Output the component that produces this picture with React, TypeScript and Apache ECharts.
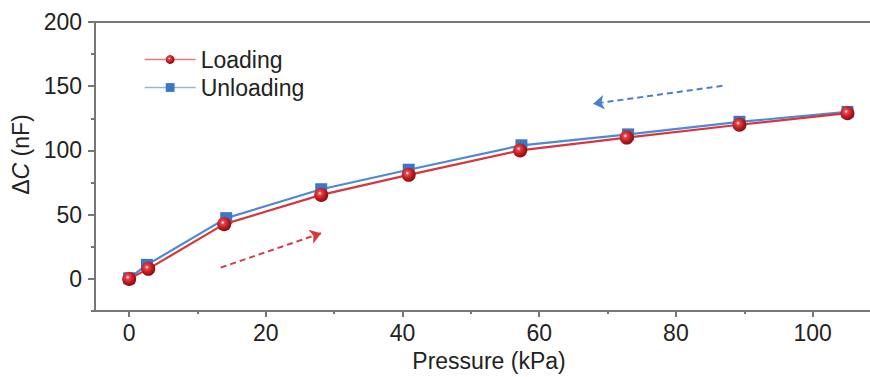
import React, { useEffect, useRef } from "react";
import * as echarts from "echarts";

const loadingData: [number, number][] = [
  [0, 0], [2.8, 7.8], [13.9, 42.6], [28.1, 65.4], [40.9, 81],
  [57.2, 100], [72.8, 110], [89.3, 120], [105.1, 129],
];
const unloadingData: [number, number][] = [
  [0, 0.5], [2.6, 10.9], [14.2, 47.3], [28.1, 69.8], [40.9, 85],
  [57.4, 104], [73, 112.5], [89.3, 122.3], [105.1, 130],
];
const xMajorTicks = [0, 20, 40, 60, 80, 100];
const xMinorTicks = [10, 30, 50, 70, 90];
const yMajorTicks = [0, 50, 100, 150, 200];
const yMinorTicks = [-25, 25, 75, 125, 175];
const loadingArrow: [number, number][] = [[13.4, 8.8], [28.1, 35.6]];
const unloadingArrow: [number, number][] = [[86.8, 150.3], [67.9, 136.3]];

const FONT = "'Liberation Sans', Arial, sans-serif";
const AXIS_COLOR = "#777";
const TEXT_COLOR = "#222";

export default function App() {
  const ref = useRef<HTMLDivElement>(null);
  useEffect(() => {
    if (!ref.current) return;
    const chart = echarts.init(ref.current, undefined, { renderer: "svg" });
    const axisLine = { show: true, onZero: false, lineStyle: { color: AXIS_COLOR, width: 2 } };
    const sphere = {
      type: "radial",
      x: 0.4,
      y: 0.38,
      r: 0.62,
      colorStops: [
        { offset: 0, color: "#ffffff" },
        { offset: 0.22, color: "#e2474b" },
        { offset: 0.6, color: "#c41c22" },
        { offset: 1, color: "#8a0c10" },
      ],
    };
    const X_MIN = -5;
    const X_MAX = 108.4;
    chart.setOption({
      animation: false,
      textStyle: { fontFamily: FONT },
      grid: { left: 95, right: 0, top: 22, bottom: 66 },
      legend: {
        orient: "vertical",
        left: 139,
        top: 43,
        itemWidth: 51,
        itemHeight: 11,
        itemGap: 5,
        textStyle: { fontSize: 23, color: TEXT_COLOR, fontFamily: FONT },
        data: [
          { name: "Loading", lineStyle: { color: "#e07b7e", width: 1.3 } },
          { name: "Unloading", lineStyle: { color: "#8db6e6", width: 1.3 } },
        ],
      },
      xAxis: [
        {
          type: "value",
          min: X_MIN,
          max: X_MAX,
          position: "bottom",
          axisLine,
          axisTick: { show: true, length: 6, customValues: xMajorTicks, lineStyle: { color: AXIS_COLOR, width: 2 } },
          axisLabel: { customValues: xMajorTicks, fontSize: 23, color: TEXT_COLOR, margin: 10, fontFamily: FONT },
          splitLine: { show: false },
          name: "Pressure (kPa)",
          nameLocation: "middle",
          nameGap: 38,
          nameTextStyle: { fontSize: 23, color: TEXT_COLOR, fontFamily: FONT, padding: [0, 0, 0, 13] },
        },
        {
          type: "value",
          min: X_MIN,
          max: X_MAX,
          position: "bottom",
          axisLine: { show: false, onZero: false },
          axisTick: { show: true, length: 3, customValues: xMinorTicks, lineStyle: { color: AXIS_COLOR, width: 2 } },
          axisLabel: { show: false },
          splitLine: { show: false },
        },
        {
          type: "value",
          min: X_MIN,
          max: X_MAX,
          position: "top",
          axisLine,
          axisTick: { show: false },
          axisLabel: { show: false },
          splitLine: { show: false },
        },
      ],
      yAxis: [
        {
          type: "value",
          min: -25,
          max: 200,
          position: "left",
          axisLine,
          axisTick: { show: true, length: 7, customValues: yMajorTicks, lineStyle: { color: AXIS_COLOR, width: 2 } },
          axisLabel: { customValues: yMajorTicks, fontSize: 23, color: TEXT_COLOR, margin: 13, fontFamily: FONT },
          splitLine: { show: false },
          name: "{n|Δ}{i|C}{n| (nF)}",
          nameLocation: "middle",
          nameGap: 48,
          nameTextStyle: {
            fontSize: 23,
            color: TEXT_COLOR,
            fontFamily: FONT,
            padding: [0, 0, 0, 24],
            rich: {
              n: { fontSize: 23, color: TEXT_COLOR, fontFamily: FONT },
              i: { fontSize: 23, color: TEXT_COLOR, fontFamily: FONT, fontStyle: "italic" },
            },
          },
        },
        {
          type: "value",
          min: -25,
          max: 200,
          position: "left",
          axisLine: { show: false, onZero: false },
          axisTick: { show: true, length: 4, customValues: yMinorTicks, lineStyle: { color: AXIS_COLOR, width: 2 } },
          axisLabel: { show: false },
          splitLine: { show: false },
        },
      ],
      series: [
        {
          name: "Unloading",
          type: "line",
          data: unloadingData,
          symbol: "rect",
          symbolSize: 12,
          itemStyle: { color: "#3a78c6" },
          lineStyle: { color: "#4a8ad6", width: 2.2 },
          z: 2,
        },
        {
          name: "Loading",
          type: "line",
          data: loadingData,
          symbol: "circle",
          symbolSize: 14,
          itemStyle: { color: sphere },
          lineStyle: { color: "#d8363c", width: 2.2 },
          z: 3,
        },
        {
          type: "lines",
          coordinateSystem: "cartesian2d",
          silent: true,
          symbol: ["none", "arrow"],
          symbolSize: 11,
          lineStyle: { color: "#d23a3e", width: 2, type: [6, 4], opacity: 1 },
          data: [{ coords: loadingArrow }],
          z: 4,
        },
        {
          type: "lines",
          coordinateSystem: "cartesian2d",
          silent: true,
          symbol: ["none", "arrow"],
          symbolSize: 11,
          lineStyle: { color: "#4a7fcc", width: 2, type: [6, 4], opacity: 1 },
          data: [{ coords: unloadingArrow }],
          z: 4,
        },
      ],
    });
    return () => chart.dispose();
  }, []);
  return (
    <div
      ref={ref}
      style={{ position: "absolute", left: 0, top: 0, width: 870, height: 377, background: "#fff" }}
    />
  );
}
